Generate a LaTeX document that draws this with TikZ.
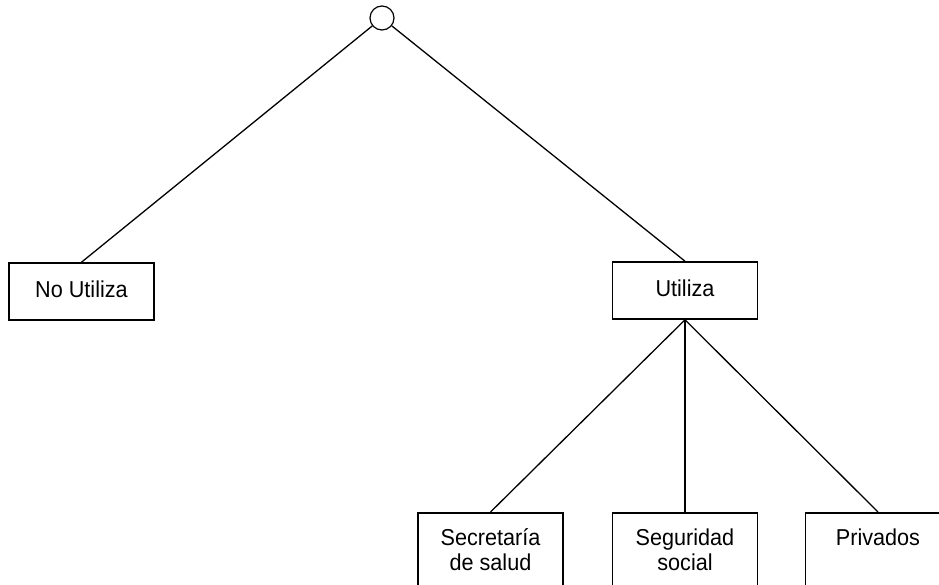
\documentclass[tikz,border=0pt]{standalone}
\usepackage{fontspec}
\setmainfont[FakeStretch=0.94]{Liberation Sans}
\begin{document}
\begin{tikzpicture}[x=1pt,y=-1pt,
    box/.style={draw,line width=1.6pt,minimum width=145pt,inner sep=0pt,align=center,font=\fontsize{23}{25}\selectfont},
    topbox/.style={box,minimum height=57pt,text height=17pt,text depth=6pt},
    lowbox/.style={box,anchor=north,text height=#1,text depth=50pt},
    lowbox/.default=58pt,
    edge/.style={line width=1.3pt}]
    \useasboundingbox[clip] (0,0) rectangle (939,584);

    \node[circle,draw,line width=1.2pt,minimum size=24pt,inner sep=0pt] (root) at (382,18) {};
    \node[topbox] (no) at (81.5,291.5) {No Utiliza};
    \node[topbox] (si) at (685,290.5) {Utiliza};

    \node[lowbox] (sec) at (490.5,512) {Secretaría\\de salud};
    \node[lowbox] (seg) at (685,512) {Seguridad\\social};
    \node[lowbox=33pt] (pri) at (878,512) {Privados};

    \draw[edge] (root) -- (no.north);
    \draw[edge] (root) -- (si.north);
    \foreach \k in {sec,seg,pri} \draw[edge] (si.south) -- (\k.north);
\end{tikzpicture}
\end{document}
